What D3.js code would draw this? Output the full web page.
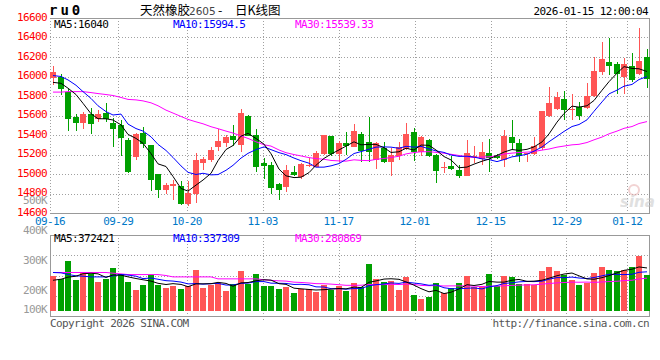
<!DOCTYPE html>
<html lang="zh-CN">
<head>
  <meta charset="UTF-8" />
  <title>天然橡胶2605 - 日K线图</title>
  <script src="https://d3js.org/d3.v7.min.js"></script>
  <style>
    body { margin: 0; background: #fff; }
    svg { display: block; }
    .mono { font-family: "DejaVu Sans Mono", "Liberation Mono", monospace; font-size: 11px; letter-spacing: -0.6px; }
  </style>
</head>
<body>
  <svg id="chart" width="660" height="360"></svg>

  <script>
    // trading days shown (MM-DD)
    const dates = [
      "09-16","09-17","09-18","09-19","09-22","09-23","09-24","09-25","09-26","09-29","09-30",
      "10-09","10-10","10-13","10-14","10-15","10-16","10-17","10-20","10-21","10-22","10-23","10-24",
      "10-27","10-28","10-29","10-30","10-31",
      "11-03","11-04","11-05","11-06","11-07","11-10","11-11","11-12","11-13","11-14",
      "11-17","11-18","11-19","11-20","11-21","11-24","11-25","11-26","11-27","11-28",
      "12-01","12-02","12-03","12-04","12-05","12-08","12-09","12-10","12-11","12-12",
      "12-15","12-16","12-17","12-18","12-19","12-22","12-23","12-24","12-25","12-26",
      "12-29","12-30","12-31","01-05","01-06","01-07","01-08","01-09",
      "01-12","01-13","01-14","01-15"
    ];

    const open = [
      15980,16000,15845,15580,15525,15615,15560,15630,15525,15505,
      15350,15170,15425,15300,15000,14840,14880,14880,14695,14795,
      15110,15145,15275,15320,15385,15300,15595,15400,15110,15095,
      14900,14870,15025,14965,15085,15075,15205,15385,15205,15320,
      15280,15410,15325,15140,15265,15120,15180,15260,15430,15230,
      15350,15195,15065,15085,15045,14980,15170,15150,15215,15195,
      15145,15375,15315,15205,15205,15265,15590,15665,15765,15665,
      15690,15680,15795,16050,16150,16125,16000,16105,16030,16195
    ];
    const close = [
      16050,15870,15565,15525,15615,15515,15615,15560,15465,15365,
      15025,15410,15310,14935,14840,14890,14900,14690,14805,15145,
      15150,15245,15340,15375,15350,15630,15390,15075,15085,14860,
      14840,15045,14985,15105,15095,15220,15395,15205,15320,15290,
      15440,15240,15230,15320,15120,15195,15275,15410,15230,15375,
      15180,15035,15075,15055,14975,15215,15185,15225,15160,15165,
      15390,15315,15180,15215,15290,15645,15725,15785,15655,15670,
      15595,15795,16055,16180,16110,16030,16130,15965,16160,15970
    ];
    const high = [
      16105,16030,15870,15615,15640,15675,15655,15725,15570,15555,
      15365,15420,15480,15300,15000,14905,14940,14925,14930,15215,
      15170,15280,15460,15400,15505,15665,15605,15460,15160,15120,
      14905,15095,15085,15110,15160,15240,15400,15390,15335,15430,
      15510,15430,15580,15330,15325,15265,15325,15525,15470,15385,
      15355,15205,15120,15180,15095,15350,15290,15325,15360,15205,
      15450,15555,15355,15220,15375,15645,15890,15845,15850,15820,
      15740,15930,16200,16355,16390,16145,16185,16245,16495,16280
    ];
    const low = [
      15910,15810,15445,15445,15460,15415,15535,15535,15275,15180,
      15015,15140,15265,14830,14755,14795,14735,14680,14675,14700,
      15045,15120,15240,15280,15290,15230,15385,15020,14950,14795,
      14730,14815,14975,14950,15075,15070,15195,15185,15120,15195,
      15275,15120,15120,15050,15110,14975,15145,15245,15130,15180,
      15170,14905,15010,15045,14960,14975,15110,15095,15025,15150,
      15075,15245,15120,15120,15195,15245,15580,15655,15555,15555,
      15555,15665,15785,16020,16020,15825,15825,15945,16020,15880
    ];
    // volume, thousands of lots
    const volumeK = [
      303,275,430,266,332,323,251,275,372,323,
      251,179,222,314,228,199,216,188,216,352,
      199,222,245,171,231,343,237,320,216,216,
      188,208,156,188,188,165,222,179,216,171,
      243,203,404,275,251,257,179,291,136,102,
      119,243,151,194,243,303,208,203,317,213,
      303,291,237,234,222,343,377,343,308,266,
      222,243,329,377,352,343,352,377,475,308
    ];

    // moving averages before enough history is on screen
    const ma5Head = [15940, 15930, 15880, 15815];
    const ma10Head = [16010, 16000, 15965, 15910, 15845, 15775, 15700, 15640, 15605];
    const ma30Head = [
      15840,15840,15845,15845,15845,15835,15825,15815,15805,15785,
      15765,15760,15750,15730,15700,15655,15625,15590,15560,15535,
      15515,15485,15465,15440,15420,15390,15365,15330,15300
    ];
    const vma5Head = [265, 274, 292, 300];
    const vma10Head = [332, 329, 315, 303, 300, 294, 294, 294, 303];
    const vma30Head = [
      332,332,332,332,332,332,332,332,326,320,
      314,314,314,314,314,306,294,294,294,294,
      294,294,277,277,277,277,277,277,269
    ];

    const priceTicks = [14600, 14800, 15000, 15200, 15400, 15600, 15800, 16000, 16200, 16400, 16600];
    const volTicksK = [100, 200, 300, 400, 500];
    const dateTicks = ["09-16", "09-29", "10-20", "11-03", "11-17", "12-01", "12-15", "12-29", "01-12"];

    const legendPrice = ["MA5:16040", "MA10:15994.5", "MA30:15539.33"];
    const legendVol = ["MA5:372421", "MA10:337309", "MA30:280869"];
    const legendColors = ["#000", "#0000ff", "#ff00ff"];

    const UP = "#ff5555", DOWN = "#00a000", GRID = "#a0a0a0", FRAME = "#999";

    const svg = d3.select("#chart");

    const left = 50, right = 650;
    const priceTop = 18, priceBottom = 213;
    const volTop = 235, volBottom = 316;

    const x = d3.scaleBand().domain(d3.range(dates.length)).range([left, right]).paddingInner(0.2);
    const xGrid = d3.scalePoint().domain(dates).range([left, right]);
    const y = d3.scaleLinear().domain([14600, 16600]).range([priceBottom, priceTop]);
    const yVol = d3.scaleLinear().domain([0, 500]).range([311, 253]);
    const yVolLabel = d3.scaleLinear().domain([200, 500]).range([291, 201]);
    const bw = Math.round(x.bandwidth());
    const cx = (i) => Math.round(x(i)) + bw / 2;

    function movingAvg(values, n, head) {
      return values.map((v, i) => {
        if (i < n - 1) return head[i];
        return d3.mean(values.slice(i - n + 1, i + 1));
      });
    }

    const clip = svg.append("defs");
    clip.append("clipPath").attr("id", "clip-price")
      .append("rect").attr("x", left).attr("y", priceTop - 12).attr("width", right - left).attr("height", priceBottom - priceTop + 12);
    clip.append("clipPath").attr("id", "clip-vol")
      .append("rect").attr("x", left).attr("y", volTop).attr("width", right - left).attr("height", volBottom - volTop);

    // ---- header
    svg.append("text")
      .attr("x", 49).attr("y", 15)
      .attr("font-family", "DejaVu Sans Mono, monospace")
      .attr("font-weight", "bold").attr("font-size", 14)
      .attr("letter-spacing", 3)
      .text("ru0");

    const title = svg.append("text")
      .attr("y", 15)
      .attr("font-family", "Noto Sans CJK SC, sans-serif")
      .attr("font-size", 12.5);
    title.append("tspan").attr("x", 140).text("天然橡胶");
    title.append("tspan").attr("x", 189).attr("font-family", "DejaVu Sans, sans-serif").attr("font-size", 10.5).attr("fill", "#444").text("2605");
    title.append("tspan").attr("x", 218).text("-");
    title.append("tspan").attr("x", 235).text("日K线图");

    svg.append("text").attr("class", "mono")
      .attr("x", 648).attr("y", 15).attr("text-anchor", "end")
      .text("2026-01-15 12:00:04");

    // ---- grids
    const grid = svg.append("g")
      .attr("stroke", GRID).attr("stroke-dasharray", "1,2").attr("shape-rendering", "crispEdges");

    grid.selectAll(".hp")
      .data(priceTicks.filter((t) => t > 14600 && t < 16600))
      .enter().append("line")
      .attr("x1", left).attr("x2", right)
      .attr("y1", (d) => Math.round(y(d)) + 0.5).attr("y2", (d) => Math.round(y(d)) + 0.5);

    grid.selectAll(".vp")
      .data(dateTicks.slice(1))
      .enter().append("line")
      .attr("x1", (d) => Math.round(xGrid(d)) + 0.5).attr("x2", (d) => Math.round(xGrid(d)) + 0.5)
      .attr("y1", priceTop).attr("y2", priceBottom);

    grid.selectAll(".hv")
      .data([1, 2, 3])
      .enter().append("line")
      .attr("x1", left).attr("x2", right)
      .attr("y1", (d) => Math.round(volTop + (volBottom - volTop) * d / 4) + 0.5)
      .attr("y2", (d) => Math.round(volTop + (volBottom - volTop) * d / 4) + 0.5);

    grid.selectAll(".vv")
      .data(dateTicks.slice(1))
      .enter().append("line")
      .attr("x1", (d) => Math.round(xGrid(d)) + 0.5).attr("x2", (d) => Math.round(xGrid(d)) + 0.5)
      .attr("y1", volTop).attr("y2", volBottom + 4);

    // left axis of the price panel is dotted
    grid.append("line")
      .attr("x1", left + 0.5).attr("x2", left + 0.5)
      .attr("y1", priceTop).attr("y2", priceBottom);

    // ---- frames
    const frame = svg.append("g").attr("stroke", FRAME).attr("fill", "none").attr("shape-rendering", "crispEdges");
    frame.append("path").attr("d", `M${left},${priceTop + 0.5}H${right - 0.5}V${priceBottom + 0.5}H${left}`);
    frame.append("rect")
      .attr("x", left + 0.5).attr("y", volTop + 0.5)
      .attr("width", right - left - 1).attr("height", volBottom - volTop);

    // ---- candles
    const candles = svg.append("g").attr("clip-path", "url(#clip-price)").attr("shape-rendering", "crispEdges");
    const idx = d3.range(dates.length);
    const colorOf = (i) => (close[i] >= open[i] ? UP : DOWN);

    candles.selectAll(".wick")
      .data(idx)
      .enter().append("line")
      .attr("x1", (i) => Math.floor(cx(i)) + 0.5).attr("x2", (i) => Math.floor(cx(i)) + 0.5)
      .attr("y1", (i) => y(high[i])).attr("y2", (i) => y(low[i]))
      .attr("stroke", colorOf);

    candles.selectAll(".body")
      .data(idx)
      .enter().append("rect")
      .attr("x", (i) => Math.round(x(i)))
      .attr("width", bw)
      .attr("y", (i) => y(Math.max(open[i], close[i])))
      .attr("height", (i) => Math.max(1, Math.abs(y(open[i]) - y(close[i]))))
      .attr("fill", colorOf);

    // ---- price moving averages
    const priceMAs = [
      movingAvg(close, 5, ma5Head),
      movingAvg(close, 10, ma10Head),
      movingAvg(close, 30, ma30Head)
    ];
    const priceLine = d3.line().x((d, i) => cx(i)).y((d) => y(d));
    const maG = svg.append("g").attr("clip-path", "url(#clip-price)");
    priceMAs.slice().reverse().forEach((s, k) => {
      maG.append("path").attr("d", priceLine(s))
        .attr("fill", "none").attr("stroke", legendColors[2 - k]).attr("stroke-width", 1);
    });

    // ---- volume bars
    const vol = svg.append("g").attr("clip-path", "url(#clip-vol)").attr("shape-rendering", "crispEdges");
    vol.selectAll(".vbar")
      .data(idx)
      .enter().append("rect")
      .attr("x", (i) => Math.round(x(i)))
      .attr("width", bw)
      .attr("y", (i) => yVol(volumeK[i]))
      .attr("height", (i) => yVol(0) - yVol(volumeK[i]))
      .attr("fill", colorOf);

    const volMAs = [
      movingAvg(volumeK, 5, vma5Head),
      movingAvg(volumeK, 10, vma10Head),
      movingAvg(volumeK, 30, vma30Head)
    ];
    const volLine = d3.line().x((d, i) => cx(i)).y((d) => yVol(d));
    const vmaG = svg.append("g").attr("clip-path", "url(#clip-vol)");
    volMAs.slice().reverse().forEach((s, k) => {
      vmaG.append("path").attr("d", volLine(s))
        .attr("fill", "none").attr("stroke", legendColors[2 - k]).attr("stroke-width", 1);
    });

    // ---- axis labels
    svg.selectAll(".plabel")
      .data(priceTicks)
      .enter().append("text")
      .attr("class", "mono")
      .attr("x", 47).attr("y", (d) => y(d) + 2.5)
      .attr("text-anchor", "end").attr("fill", "#ff0000")
      .text((d) => d);

    svg.selectAll(".vlabel")
      .data(volTicksK)
      .enter().append("text")
      .attr("class", "mono")
      .attr("x", 47).attr("y", (d) => Math.min(yVolLabel(d), 310) + 3)
      .attr("text-anchor", "end").attr("fill", "#999")
      .text((d) => d + "K");

    svg.selectAll(".dlabel")
      .data(dateTicks)
      .enter().append("text")
      .attr("class", "mono")
      .attr("x", (d) => xGrid(d)).attr("y", 225)
      .attr("text-anchor", "middle").attr("fill", "#0078c8")
      .text((d) => d);

    // ---- legends
    const legendX = [54, 173, 295];
    svg.selectAll(".lp")
      .data(legendPrice)
      .enter().append("text")
      .attr("class", "mono")
      .attr("x", (d, i) => legendX[i]).attr("y", 27.5)
      .attr("fill", (d, i) => legendColors[i])
      .text((d) => d);
    svg.selectAll(".lv")
      .data(legendVol)
      .enter().append("text")
      .attr("class", "mono")
      .attr("x", (d, i) => legendX[i]).attr("y", 242)
      .attr("fill", (d, i) => legendColors[i])
      .text((d) => d);

    // ---- watermark
    const wm = svg.append("g").attr("opacity", 0.55);
    wm.append("circle").attr("cx", 634).attr("cy", 190).attr("r", 5)
      .attr("fill", "none").attr("stroke", "#e8b0b0").attr("stroke-width", 2);
    wm.append("text")
      .attr("x", 620).attr("y", 207)
      .attr("font-family", "DejaVu Sans, sans-serif").attr("font-size", 15)
      .attr("font-style", "italic").attr("font-weight", "bold")
      .attr("fill", "#c8c8c8")
      .text("sina");

    // ---- footer
    svg.append("text").attr("class", "mono")
      .attr("x", 50).attr("y", 327).attr("fill", "#555")
      .text("Copyright 2026 SINA.COM");
    svg.append("text").attr("class", "mono")
      .attr("x", 649).attr("y", 327).attr("text-anchor", "end").attr("fill", "#555")
      .text("http://finance.sina.com.cn");
  </script>
</body>
</html>
